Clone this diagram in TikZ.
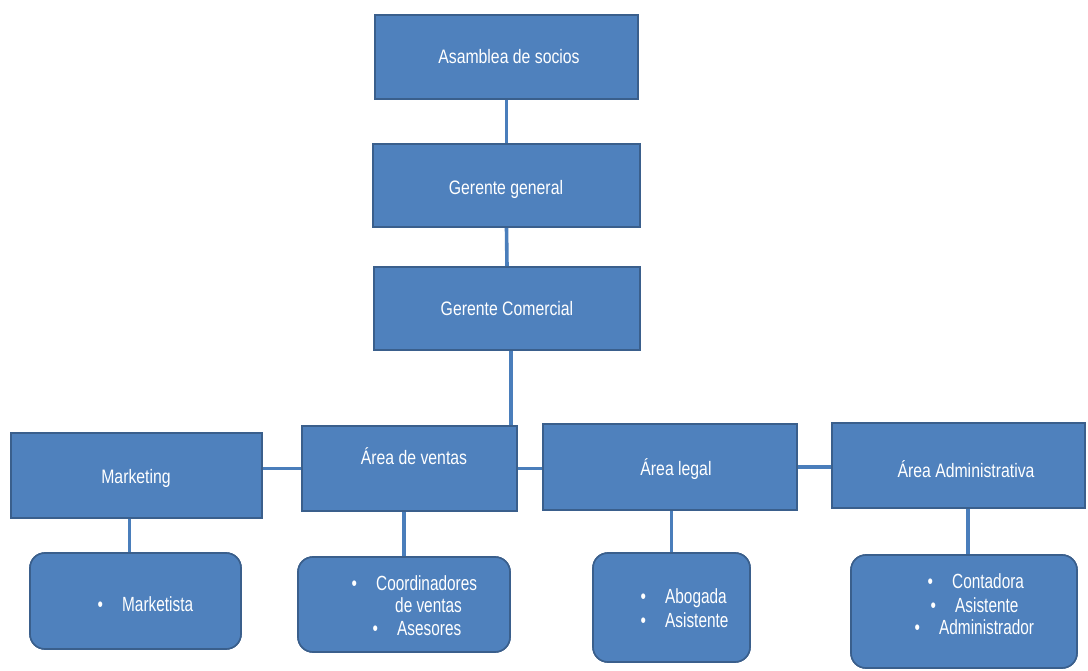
\documentclass[tikz,border=0pt]{standalone}
\usepackage{fontspec}
\newfontfamily\headfont[FakeStretch=0.81]{Liberation Sans}
\newfontfamily\itemfont[FakeStretch=0.75]{Liberation Sans}
\usetikzlibrary{calc}
\definecolor{boxblue}{HTML}{4F81BD}
\definecolor{boxedge}{HTML}{3A5F8C}
\definecolor{linkblue}{HTML}{4A7EBB}
\newcommand{\bitem}[1]{\makebox[0pt]{\textbullet}\hspace{22pt}#1}

\begin{document}
\begin{tikzpicture}[x=1pt,y=-1pt,
  unitbox/.style={draw=boxedge, fill=boxblue, line width=1.6pt, inner sep=0},
  staffbox/.style={unitbox, rounded corners=15pt},
  link/.style={draw=linkblue, line width=3.6pt},
  headtxt/.style={anchor=base, inner sep=0, text=white, font=\headfont\fontsize{19.5}{22}\selectfont},
  itemtxt/.style={anchor=base west, inner sep=0, text=white, font=\itemfont\fontsize{20.5}{23}\selectfont}]
\useasboundingbox (0,0) rectangle (1088,671);

% box outlines (placed first so connectors can refer to them)
\path
  node[unitbox, minimum width=263, minimum height=84] (asamblea) at (506.5,57) {}
  node[unitbox, minimum width=267, minimum height=83] (gg) at (506.5,185.5) {}
  node[unitbox, minimum width=266, minimum height=83] (gc) at (507,308.5) {}
  node[unitbox, minimum width=251, minimum height=85] (mk) at (136.5,475.5) {}
  node[unitbox, minimum width=215, minimum height=85] (ventas) at (409.5,468.5) {}
  node[unitbox, minimum width=254, minimum height=86] (legal) at (670,467) {}
  node[unitbox, minimum width=253, minimum height=85] (admin) at (958.5,465.5) {}
  node[staffbox, minimum width=211, minimum height=96] (mkc) at (135.5,601) {}
  node[staffbox, minimum width=212, minimum height=95] (vc) at (404,604.5) {}
  node[staffbox, minimum width=157, minimum height=109] (lc) at (671.5,607.5) {}
  node[staffbox, minimum width=226, minimum height=113] (ac) at (964,611.5) {};

% connectors
\draw[link] (asamblea.south) -- (gg.north);
\draw[link] (gg.south) -- (gc.north);
\draw[link] ($(gc.south)+(4,0)$) coordinate (gcdrop) -- (gcdrop |- ventas.north);
\draw[link] (ventas.west -| mk.east) -- (ventas.west);
\draw[link] (ventas.east) -- (ventas.east -| legal.west);
\draw[link] (legal.east) -- (legal.east -| admin.west);
\draw[link] ($(mk.south)+(-7,0)$) coordinate (mkdrop) -- (mkdrop |- mkc.north);
\draw[link] (vc.north |- ventas.south) -- (vc.north);
\draw[link] (lc.north |- legal.south) -- (lc.north);
\draw[link] ($(ac.north)+(4,0)$) coordinate (acdrop) -- (acdrop |- admin.south);

% boxes again, over the connector ends
\path
  node[unitbox, minimum width=263, minimum height=84] at (asamblea) {}
  node[unitbox, minimum width=267, minimum height=83] at (gg) {}
  node[unitbox, minimum width=266, minimum height=83] at (gc) {}
  node[unitbox, minimum width=251, minimum height=85] at (mk) {}
  node[unitbox, minimum width=215, minimum height=85] at (ventas) {}
  node[unitbox, minimum width=254, minimum height=86] at (legal) {}
  node[unitbox, minimum width=253, minimum height=85] at (admin) {}
  node[staffbox, minimum width=211, minimum height=96] at (mkc) {}
  node[staffbox, minimum width=212, minimum height=95] at (vc) {}
  node[staffbox, minimum width=157, minimum height=109] at (lc) {}
  node[staffbox, minimum width=226, minimum height=113] at (ac) {};

% unit titles
\node[headtxt] (asamblea-t) at (509,64) {Asamblea de socios};
\node[headtxt] (gg-t) at (506,195) {Gerente general};
\node[headtxt] (gc-t) at (507,316) {Gerente Comercial};
\node[headtxt] (mk-t) at (136,483) {Marketing};
\node[headtxt] (ventas-t) at (414,464) {Área de ventas};
\node[headtxt] (legal-t) at (676,475) {Área legal};
\node[headtxt] (admin-t) at (966,477) {Área Administrativa};

% staff lists
\node[itemtxt] (mkc-1) at (100,611) {\bitem{Marketista}};
\node[itemtxt] (vc-1) at (354,590) {\bitem{Coordinadores}};
\node[itemtxt] (vc-1b) at (395,612) {de ventas};
\node[itemtxt] (vc-2) at (375,635) {\bitem{Asesores}};
\node[itemtxt] (lc-1) at (643,603) {\bitem{Abogada}};
\node[itemtxt] (lc-2) at (643,627) {\bitem{Asistente}};
\node[itemtxt] (ac-1) at (930,588) {\bitem{Contadora}};
\node[itemtxt] (ac-2) at (933,612) {\bitem{Asistente}};
\node[itemtxt] (ac-3) at (917,634) {\bitem{Administrador}};
\end{tikzpicture}
\end{document}
